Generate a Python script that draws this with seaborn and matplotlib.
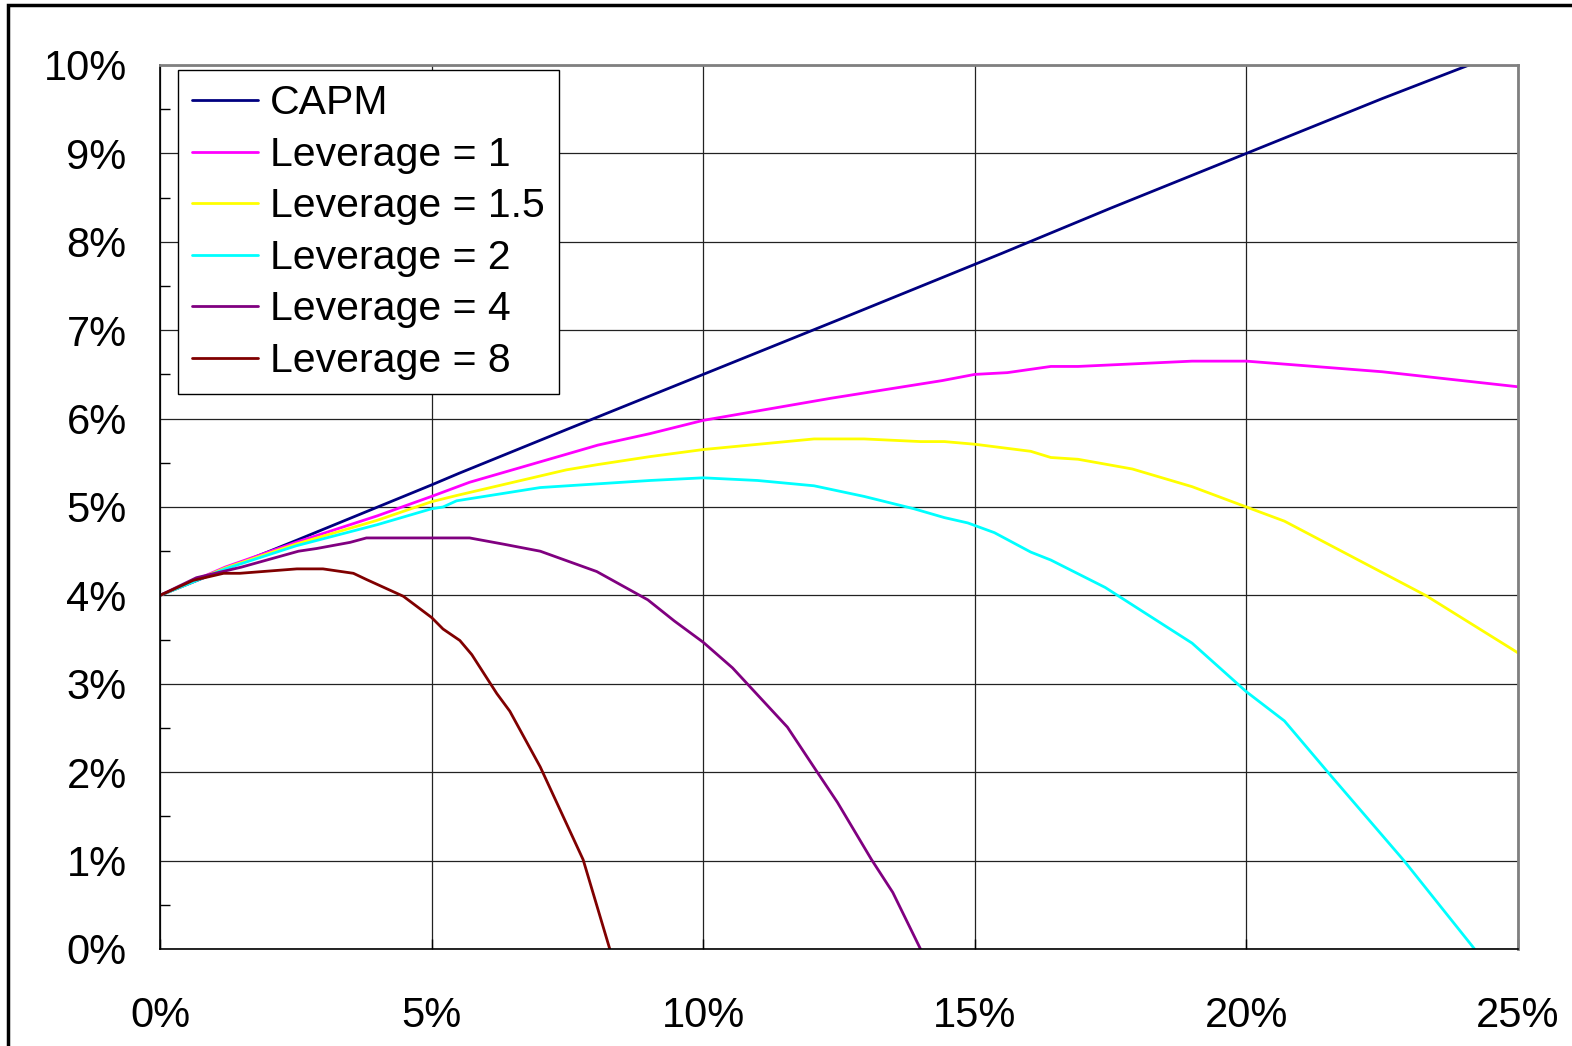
import seaborn as sns
from matplotlib import pyplot as plt
from matplotlib.patches import Rectangle
from matplotlib.ticker import MultipleLocator, FuncFormatter
import pandas as pd

# values, in percent (risk on x, expected return on y)
capm_x = [0, 2.5, 5, 5.5, 7.5, 10, 12.5, 14.5, 15.5, 17.5, 20, 22.5, 24.1]
capm_y = [4.0, 4.62, 5.25, 5.38, 5.88, 6.5, 7.12, 7.62, 7.87, 8.38, 9.0, 9.62, 10.0]

lev1_x = [0, 1.2, 2.5, 4, 5, 5.7, 7.5, 8.06, 9.02, 10, 12.35, 14.4, 15, 15.6,
          16.4, 16.9, 19, 20, 22.5, 25]
lev1_y = [4.0, 4.32, 4.6, 4.9, 5.12, 5.28, 5.6, 5.70, 5.83, 5.98, 6.23, 6.43, 6.5,
          6.52, 6.59, 6.59, 6.65, 6.65, 6.53, 6.36]

lev15_x = [0, 1.2, 2.5, 4, 5, 5.46, 7.48, 8.06, 9.02, 10, 12.04, 12.96, 14.0, 14.44,
           15, 16.03, 16.4, 16.9, 17.9, 19, 20, 20.7, 23.3, 25]
lev15_y = [4.0, 4.31, 4.58, 4.85, 5.06, 5.13, 5.42, 5.48, 5.57, 5.65, 5.77, 5.77,
           5.74, 5.74, 5.71, 5.63, 5.56, 5.54, 5.43, 5.23, 5.0, 4.84, 4.0, 3.35]

lev2_x = [0, 1.2, 2.5, 4, 5, 5.21, 5.46, 7.0, 9.02, 10, 11, 12.04, 12.96, 13.88,
          14.44, 14.87, 15.36, 16.03, 16.4, 17.4, 19, 20, 20.7, 21.5, 22.9, 24.2]
lev2_y = [4.0, 4.30, 4.56, 4.8, 4.98, 5.0, 5.07, 5.22, 5.30, 5.33, 5.30, 5.24, 5.12,
          4.98, 4.88, 4.82, 4.71, 4.49, 4.40, 4.09, 3.46, 2.91, 2.58, 2.0, 1.0, 0.0]

lev4_x = [0, 0.67, 1.5, 2.55, 2.88, 3.5, 3.8, 5.7, 6.32, 7.0, 8.04, 8.98, 9.47, 10,
          10.54, 11.55, 12.1, 12.47, 13.1, 13.49, 14.0]
lev4_y = [4.0, 4.2, 4.32, 4.50, 4.53, 4.60, 4.65, 4.65, 4.58, 4.50, 4.27, 3.95, 3.71,
          3.47, 3.18, 2.51, 2.0, 1.66, 1.01, 0.64, 0.0]

lev8_x = [0, 0.61, 1.17, 1.47, 2.52, 3.0, 3.56, 3.8, 4.48, 5.0, 5.21, 5.52, 5.74,
          6.2, 6.44, 7.0, 7.79, 8.28]
lev8_y = [4.0, 4.17, 4.25, 4.25, 4.30, 4.30, 4.25, 4.18, 3.99, 3.75, 3.62, 3.49,
          3.33, 2.89, 2.69, 2.06, 1.01, 0.0]

series = [
    ('CAPM', capm_x, capm_y, '#000080'),
    ('Leverage = 1', lev1_x, lev1_y, '#FF00FF'),
    ('Leverage = 1.5', lev15_x, lev15_y, '#FFFF00'),
    ('Leverage = 2', lev2_x, lev2_y, '#00FFFF'),
    ('Leverage = 4', lev4_x, lev4_y, '#800080'),
    ('Leverage = 8', lev8_x, lev8_y, '#800000'),
]

sns.set_style('white')
plt.rcParams['font.family'] = ['Liberation Sans', 'DejaVu Sans']
plt.rcParams['text.color'] = 'black'

fig = plt.figure(figsize=(15.72, 10.46), dpi=100)
ax = fig.add_axes([160 / 1572, 97 / 1046, 1358 / 1572, 884 / 1046])

for name, xs, ys, col in series:
    df = pd.DataFrame({'x': xs, 'y': ys})
    sns.lineplot(data=df, x='x', y='y', ax=ax, color=col, linewidth=2.0,
                 label=name, estimator=None, sort=False)

ax.set_xlim(0, 25)
ax.set_ylim(0, 10)
ax.xaxis.set_major_locator(MultipleLocator(5))
ax.yaxis.set_major_locator(MultipleLocator(1))
ax.yaxis.set_minor_locator(MultipleLocator(0.5))
pct = FuncFormatter(lambda v, p: f'{v:.0f}%')
ax.xaxis.set_major_formatter(pct)
ax.yaxis.set_major_formatter(pct)
ax.set_xlabel('')
ax.set_ylabel('')

ax.grid(True, which='major', color='#222222', linewidth=0.9)
ax.tick_params(axis='both', which='both', direction='in', colors='black')
ax.tick_params(axis='y', which='major', length=7, width=1, labelsize=30, pad=24)
ax.tick_params(axis='y', which='minor', length=7, width=1, left=True)
ax.tick_params(axis='x', which='major', length=7, width=1, labelsize=30, pad=34,
               bottom=True)

for side in ['left', 'bottom']:
    ax.spines[side].set_color('black')
    ax.spines[side].set_linewidth(1.2)
for side in ['top', 'right']:
    ax.spines[side].set_color('#808080')
    ax.spines[side].set_linewidth(2)

leg = ax.legend(loc='upper left', bbox_to_anchor=(18 / 1358, 879 / 884),
                borderaxespad=0, fontsize=29.5, frameon=True, fancybox=False,
                handlelength=1.6, handletextpad=0.3, labelspacing=0.33,
                borderpad=0.35, edgecolor='black')
leg.get_frame().set_linewidth(1)
leg.get_frame().set_alpha(1)
for t in leg.get_texts():
    t.set_color('black')

# outer frame of the original picture
fig.patches.append(Rectangle((8 / 1572, -0.05), 1.2, 1.05 - 5 / 1046,
                             transform=fig.transFigure, fill=False,
                             edgecolor='black', linewidth=2.5, clip_on=False))

fig.savefig('out.png', dpi=100)
